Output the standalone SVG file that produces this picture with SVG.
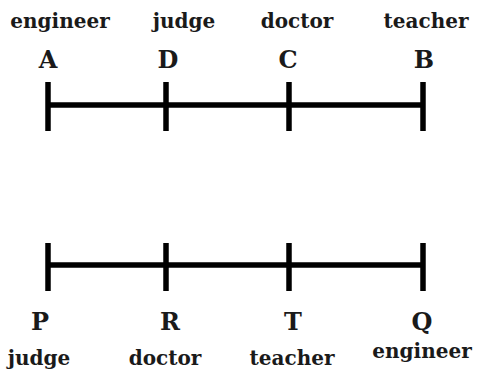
<svg xmlns="http://www.w3.org/2000/svg" width="480" height="375" viewBox="0 0 480 375">
<style>
text{font-family:"DejaVu Serif",serif;font-weight:bold;fill:#1a1a1a;text-anchor:middle}
.w{font-size:20px}
.l{font-size:24px}
.ln{stroke:#000;stroke-width:5.5;fill:none}
</style>
<rect width="480" height="375" fill="#fff"/>
<g id="connectors">
<path class="ln" d="M48 105H423M48 265H423"/>
</g>
<g id="A"><path class="ln" d="M48 82V131"/><text class="w" x="60" y="28">engineer</text><text class="l" x="48" y="68">A</text></g>
<g id="D"><path class="ln" d="M166 82V131"/><text class="w" x="184" y="28">judge</text><text class="l" x="168" y="68">D</text></g>
<g id="C"><path class="ln" d="M289 82V131"/><text class="w" x="297" y="28">doctor</text><text class="l" x="288" y="68">C</text></g>
<g id="B"><path class="ln" d="M423 82V131"/><text class="w" x="426" y="28">teacher</text><text class="l" x="424" y="68">B</text></g>
<g id="P"><path class="ln" d="M48 243V291"/><text class="l" x="40" y="330">P</text><text class="w" x="39" y="365">judge</text></g>
<g id="R"><path class="ln" d="M166 243V291"/><text class="l" x="170" y="330">R</text><text class="w" x="165" y="365">doctor</text></g>
<g id="T"><path class="ln" d="M289 243V291"/><text class="l" x="293" y="330">T</text><text class="w" x="292" y="365">teacher</text></g>
<g id="Q"><path class="ln" d="M423 243V291"/><text class="l" x="422" y="330">Q</text><text class="w" x="422" y="358">engineer</text></g>
</svg>
